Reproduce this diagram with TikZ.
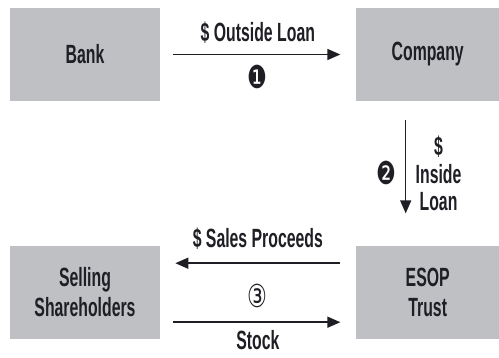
\documentclass[tikz,border=0pt]{standalone}
\usepackage{fontspec}
\usepackage{tikz}
\usetikzlibrary{arrows.meta, positioning}
\newfontfamily\condfont{Liberation Sans}[FakeStretch=0.6]
\newfontfamily\circfont{DejaVu Sans}[FakeStretch=0.7]
\definecolor{boxgray}{RGB}{190,192,195}
\definecolor{inkdark}{RGB}{30,30,36}

\begin{document}
\begin{tikzpicture}[
	node distance=2.88cm and 3.9cm,
	party/.style={rectangle, fill=boxgray, text=inkdark, align=center,
		minimum height=1.86cm, font=\condfont\bfseries\fontsize{15}{17}\selectfont},
	flow/.style={-{Triangle[length=0.26cm, width=0.22cm]}, line width=0.85pt, draw=inkdark},
	flowlabel/.style={text=inkdark, inner sep=1pt,
		font=\condfont\bfseries\fontsize{15}{15.5}\selectfont},
	stepnum/.style={text=inkdark, inner sep=0pt, font=\circfont\fontsize{18}{18}\selectfont}
	]
	\useasboundingbox (0,0) rectangle (9.98,-7.16);
	
	% Row 1: Bank and Company
	\node[party, minimum width=3cm] (bank) at (1.7,-1.09) {Bank};
	\node[party, minimum width=2.88cm] (company) [right=of bank] {Company};
	
	% Row 2: Shareholders and trust
	\node[party, minimum width=3cm] (selling) [below=of bank] {Selling\\Shareholders};
	\node[party, minimum width=2.88cm] (esop) [below=of company] {ESOP\\Trust};
	
	% Step 1: outside loan
	\draw[flow, shorten <=0.26cm, shorten >=0.3cm] (bank) -- (company)
		node[flowlabel, midway, above=0.17cm] {\$ Outside Loan}
		node[stepnum, midway, below=0.2cm] {❶};
	
	% Step 2: inside loan
	\draw[flow, shorten <=0.38cm, shorten >=0.64cm] ([xshift=-0.44cm]company.south) -- ([xshift=-0.44cm]esop.north)
		node[flowlabel, midway, right=0.15cm, align=center] {\$\\Inside\\Loan}
		node[stepnum, midway, left=0.17cm] {❷};
	
	% Step 3: sale of stock
	\draw[flow, shorten <=0.3cm, shorten >=0.3cm] ([yshift=0.58cm]esop.west) -- ([yshift=0.58cm]selling.east)
		node[flowlabel, midway, above=0.22cm] {\$ Sales Proceeds}
		node[stepnum, midway, below=0.4cm] {③};
	\draw[flow, shorten <=0.26cm, shorten >=0.3cm] ([yshift=-0.6cm]selling.east) -- ([yshift=-0.6cm]esop.west)
		node[flowlabel, midway, below=0.12cm] {Stock};
	
\end{tikzpicture}
\end{document}
